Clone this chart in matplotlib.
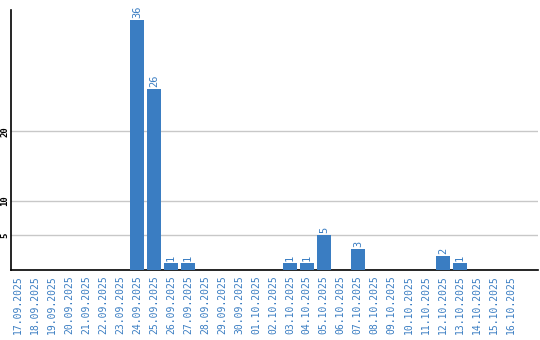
import matplotlib
matplotlib.use("Agg")
import matplotlib.pyplot as plt

dates = ["17.09.2025", "18.09.2025", "19.09.2025", "20.09.2025", "21.09.2025",
         "22.09.2025", "23.09.2025", "24.09.2025", "25.09.2025", "26.09.2025",
         "27.09.2025", "28.09.2025", "29.09.2025", "30.09.2025", "01.10.2025",
         "02.10.2025", "03.10.2025", "04.10.2025", "05.10.2025", "06.10.2025",
         "07.10.2025", "08.10.2025", "09.10.2025", "10.10.2025", "11.10.2025",
         "12.10.2025", "13.10.2025", "14.10.2025", "15.10.2025", "16.10.2025"]
values = [0, 0, 0, 0, 0, 0, 0, 36, 26, 1, 1, 0, 0, 0, 0,
          0, 1, 1, 5, 0, 3, 0, 0, 0, 0, 2, 1, 0, 0, 0]
yticks = [5, 10, 20]

blue = "#3a7dc2"
fig = plt.figure(figsize=(5.4, 3.4), dpi=100)
ax = fig.add_axes([11/540, 70/340, 527/540, 260/340])
x = list(range(len(dates)))
ax.bar(x, values, width=14/17, color=blue, zorder=3)
for xi, v in zip(x, values):
    if v > 0:
        ax.text(xi, v + 0.3, str(v), rotation=90, ha="center", va="bottom",
                color=blue, fontsize=7.5, family="DejaVu Sans Mono")
ax.set_xlim(-0.41, 30.6)
ax.set_ylim(0, 37.45)
ax.set_yticks(yticks)
ax.set_yticklabels([str(t) for t in yticks], rotation=90, va="center",
                   fontsize=6.5, family="DejaVu Sans Mono", fontweight="bold")
ax.set_xticks(x)
ax.set_xticklabels(dates, rotation=90, color=blue, fontsize=7,
                   family="DejaVu Sans Mono")
ax.tick_params(axis="both", length=0)
ax.tick_params(axis="y", pad=1)
ax.tick_params(axis="x", pad=4)
ax.yaxis.grid(True, color="#c8c8c8", linewidth=1, zorder=0)
ax.spines["top"].set_visible(False)
ax.spines["right"].set_visible(False)
ax.spines["left"].set_linewidth(1.2)
ax.spines["bottom"].set_linewidth(1.2)
fig.savefig("out.png", dpi=100)
